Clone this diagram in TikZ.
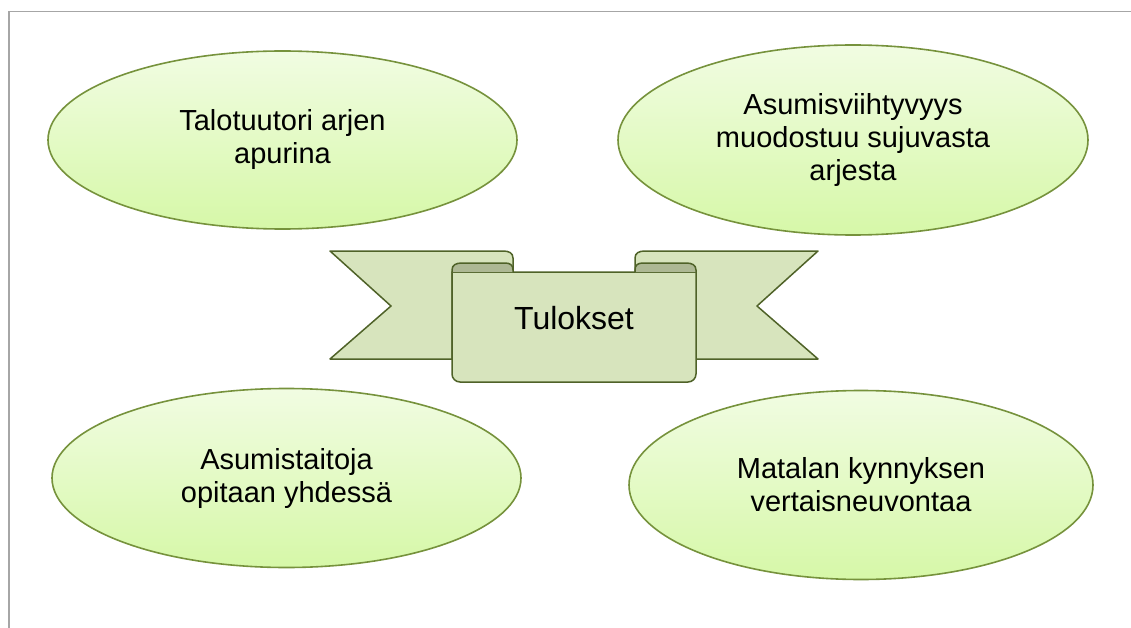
\documentclass[tikz,border=0pt]{standalone}
\usepackage{fontspec}
\setmainfont{Liberation Sans}
\usetikzlibrary{shapes.geometric}

\definecolor{framegray}{HTML}{A6A6A6}
\definecolor{bubbleline}{HTML}{76923C}
\definecolor{bubbletop}{HTML}{F1FCE2}
\definecolor{bubblebot}{HTML}{D6F8A8}
\definecolor{bannerline}{HTML}{4F6228}
\definecolor{bannerfill}{HTML}{D7E4BD}
\definecolor{bannerdark}{HTML}{ADB894}

\tikzstyle{bubble} = [ellipse, draw=bubbleline, line width=1.6pt, top color=bubbletop, bottom color=bubblebot, inner sep=0pt, align=center, font=\fontsize{29}{33}\selectfont]
\tikzstyle{banner} = [draw=bannerline, fill=bannerfill, line width=1.5pt, line join=round]
\tikzstyle{fold} = [draw=bannerline, fill=bannerdark, line width=1.5pt, line join=round]
\tikzstyle{frame} = [draw=framegray, line width=1.5pt]

\begin{document}
\begin{tikzpicture}[x=1pt, y=-1pt]
\useasboundingbox (0,0) rectangle (1131,628);
\draw[frame] (9,628) -- (9,11.5) -- (1131,11.5);

% four result ellipses
\node[bubble, minimum width=469pt, minimum height=178pt] (arki) at (282.5,140) {Talotuutori arjen\\apurina};
\node[bubble, minimum width=470pt, minimum height=190pt] (viihtyvyys) at (853,140) {Asumisviihtyvyys\\muodostuu sujuvasta\\arjesta};
\node[bubble, minimum width=469pt, minimum height=179pt] (taidot) at (286.5,478) {Asumistaitoja\\opitaan yhdessä};
\node[bubble, minimum width=464pt, minimum height=189pt] (neuvonta) at (861,485) {Matalan kynnyksen\\vertaisneuvontaa};

% banner tails
\draw[banner] (330,251) -- (503,251) .. controls (509,251) and (513,253) .. (513,258) -- (513,272) -- (452,272) -- (452,359) -- (330,359) -- (391,306) -- cycle;
\draw[banner] (818,251) -- (645,251) .. controls (639,251) and (635,253) .. (635,258) -- (635,272) -- (696,272) -- (696,359) -- (818,359) -- (757,306) -- cycle;

% banner front
\draw[banner] (452,272) -- (452,374) arc[start angle=180, end angle=270, radius=8pt] -- (688,382) arc[start angle=270, end angle=360, radius=8pt] -- (696,272) -- cycle;
\draw[fold] (452,272) -- (452,270) .. controls (452,265) and (456,263) .. (462,263) -- (505,263) .. controls (510,263) and (513,265) .. (513,270) -- (513,272);
\draw[fold] (696,272) -- (696,270) .. controls (696,265) and (692,263) .. (686,263) -- (643,263) .. controls (638,263) and (635,265) .. (635,270) -- (635,272);

\node[font=\fontsize{32}{38}\selectfont, inner sep=0pt] (tulokset) at (574,318) {Tulokset};
\end{tikzpicture}
\end{document}
